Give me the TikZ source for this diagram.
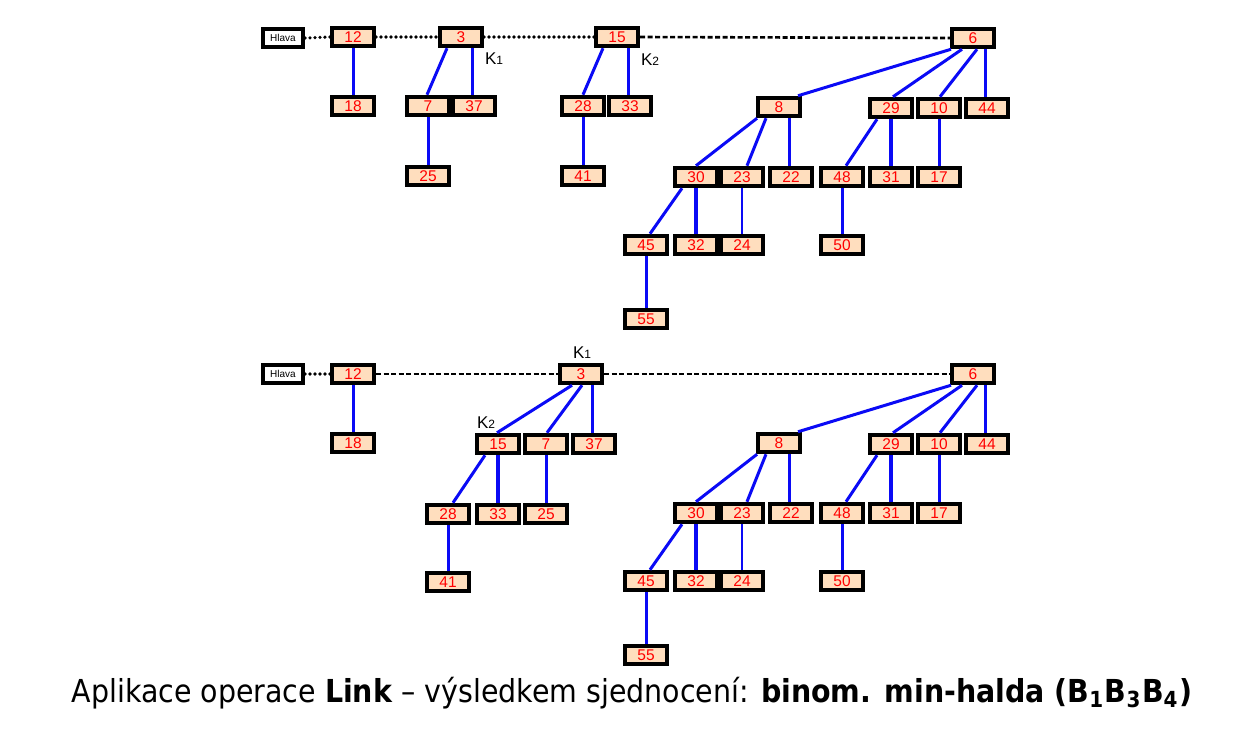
\documentclass[tikz,border=0pt]{standalone}
\usepackage{fontspec}
\setmainfont{Liberation Sans}
\newfontfamily\capfont{DejaVu Sans Condensed}
\usetikzlibrary{calc}
\definecolor{peach}{RGB}{255,222,190}
\definecolor{edgeblue}{RGB}{10,10,245}
\tikzset{
  hb/.style={draw=black, line width=4pt, fill=peach, minimum width=42pt, minimum height=18.5pt, inner sep=0pt, text=red, font=\fontsize{15.5}{15.5}\selectfont},
  hl/.style={draw=black, line width=4pt, fill=white, minimum width=40pt, minimum height=18pt, inner sep=0pt, font=\fontsize{10}{10}\selectfont},
  ed/.style={draw=edgeblue, line width=3pt},
  edt/.style={draw=edgeblue, line width=4.2pt},
  dots/.style={line width=3.6pt, line cap=round, dash pattern=on 0pt off 5pt},
  dsh/.style={line width=2.6pt, dash pattern=on 5pt off 2.5pt},
  kl/.style={font=\fontsize{17}{17}\selectfont, inner sep=0pt}
}
\newcommand{\kk}[1]{K{\fontsize{12}{12}\selectfont #1}}
\begin{document}
\begin{tikzpicture}[x=1pt,y=-1pt]
\useasboundingbox (0,0) rectangle (1260,744);
% ---------- top ----------
\node[hl] (th) at (283,38) {Hlava};
\node[hb] (t12) at (353,37) {12};
\node[hb] (t3) at (461,37) {3};
\node[hb] (t15) at (617,37) {15};
\node[hb] (t6) at (973,38) {6};
\node[hb] (t18) at (353,106) {18};
\node[hb] (t7) at (428,106) {7};
\node[hb] (t37) at (474,106) {37};
\node[hb] (t25) at (428,176) {25};
\node[hb] (t28) at (583,106) {28};
\node[hb] (t33) at (630,106) {33};
\node[hb] (t41) at (583,176) {41};
\node[hb] (t8) at (779,107) {8};
\node[hb] (t29) at (891,108) {29};
\node[hb] (t10) at (939,108) {10};
\node[hb] (t44) at (987,108) {44};
\node[hb] (t30) at (696,177) {30};
\node[hb] (t23) at (742,177) {23};
\node[hb] (t22) at (791,177) {22};
\node[hb] (t48) at (842,177) {48};
\node[hb] (t31) at (891,177) {31};
\node[hb] (t17) at (939,177) {17};
\node[hb] (t45) at (646,245) {45};
\node[hb] (t32) at (696,245) {32};
\node[hb] (t24) at (742,245) {24};
\node[hb] (t50) at (842,245) {50};
\node[hb] (t55) at (646,319) {55};
\node[kl] (tk1) at (494,59) {\kk{1}};
\node[kl] (tk2) at (650,60) {\kk{2}};
\draw[dots] (th.east) -- (t12.west);
\draw[dots] (t12.east) -- (t3.west);
\draw[dots] (t3.east) -- (t15.west);
\draw[dsh] (t15.east) -- (t6.west);
\draw[ed] (t12.south) -- (t18.north);
\draw[ed] ([xshift=-14pt]t3.south) -- ([xshift=-1pt]t7.north);
\draw[ed] ([xshift=11pt]t3.south) -- ([xshift=-2pt]t37.north);
\draw[ed] (t7.south) -- (t25.north);
\draw[ed] ([xshift=-14pt]t15.south) -- (t28.north);
\draw[ed] ([xshift=11pt]t15.south) -- ([xshift=-2pt]t33.north);
\draw[ed] (t28.south) -- (t41.north);
\draw[ed] ([xshift=-22pt]t6.south) -- ([xshift=19pt]t8.north);
\draw[ed] ([xshift=-11pt]t6.south) -- ([xshift=2pt]t29.north);
\draw[ed] ([xshift=4pt]t6.south) -- ([xshift=1pt]t10.north);
\draw[ed] ([xshift=12pt]t6.south) -- ([xshift=-2pt]t44.north);
\draw[ed] ([xshift=-22pt]t8.south) -- (t30.north);
\draw[ed] ([xshift=-13pt]t8.south) -- ([xshift=5pt]t23.north);
\draw[ed] ([xshift=10pt]t8.south) -- ([xshift=-2pt]t22.north);
\draw[ed] ([xshift=-14pt]t29.south) -- ([xshift=4pt]t48.north);
\draw[edt] (t29.south) -- (t31.north);
\draw[ed] (t10.south) -- (t17.north);
\draw[ed] ([xshift=-14pt]t30.south) -- ([xshift=4pt]t45.north);
\draw[edt] (t30.south) -- (t32.north);
\draw[ed, line width=2.2pt] (t23.south) -- (t24.north);
\draw[ed] (t48.south) -- (t50.north);
\draw[ed] (t45.south) -- (t55.north);
% ---------- bottom ----------
\node[hl] (bh) at (283,374) {Hlava};
\node[hb] (b12) at (353,374) {12};
\node[hb] (b3) at (581,374) {3};
\node[hb] (b6) at (973,374) {6};
\node[hb] (b18) at (353,443) {18};
\node[hb] (b15) at (498,444) {15};
\node[hb] (b7) at (546,444) {7};
\node[hb] (b37) at (594,444) {37};
\node[hb] (b28) at (448,514) {28};
\node[hb] (b33) at (498,514) {33};
\node[hb] (b25) at (546,514) {25};
\node[hb] (b41) at (448,582) {41};
\node[hb] (b8) at (779,443) {8};
\node[hb] (b29) at (891,444) {29};
\node[hb] (b10) at (939,444) {10};
\node[hb] (b44) at (987,444) {44};
\node[hb] (b30) at (696,513) {30};
\node[hb] (b23) at (742,513) {23};
\node[hb] (b22) at (791,513) {22};
\node[hb] (b48) at (842,513) {48};
\node[hb] (b31) at (891,513) {31};
\node[hb] (b17) at (939,513) {17};
\node[hb] (b45) at (646,581) {45};
\node[hb] (b32) at (696,581) {32};
\node[hb] (b24) at (742,581) {24};
\node[hb] (b50) at (842,581) {50};
\node[hb] (b55) at (646,655) {55};
\node[kl] (bk1) at (582,353) {\kk{1}};
\node[kl] (bk2) at (486,423) {\kk{2}};
\draw[dots] (bh.east) -- (b12.west);
\draw[dsh] (b12.east) -- (b3.west);
\draw[dsh] (b3.east) -- (b6.west);
\draw[ed] (b12.south) -- (b18.north);
\draw[ed] ([xshift=-9pt]b3.south) -- ([xshift=-1pt]b15.north);
\draw[ed] ([xshift=1pt]b3.south) -- ([xshift=1pt]b7.north);
\draw[ed] ([xshift=11pt]b3.south) -- ([xshift=-2pt]b37.north);
\draw[ed] ([xshift=-13pt]b15.south) -- ([xshift=5pt]b28.north);
\draw[edt] (b15.south) -- (b33.north);
\draw[ed] (b7.south) -- (b25.north);
\draw[ed] (b28.south) -- (b41.north);
\draw[ed] ([xshift=-22pt]b6.south) -- ([xshift=19pt]b8.north);
\draw[ed] ([xshift=-11pt]b6.south) -- ([xshift=2pt]b29.north);
\draw[ed] ([xshift=4pt]b6.south) -- ([xshift=1pt]b10.north);
\draw[ed] ([xshift=12pt]b6.south) -- ([xshift=-2pt]b44.north);
\draw[ed] ([xshift=-22pt]b8.south) -- (b30.north);
\draw[ed] ([xshift=-13pt]b8.south) -- ([xshift=5pt]b23.north);
\draw[ed] ([xshift=10pt]b8.south) -- ([xshift=-2pt]b22.north);
\draw[ed] ([xshift=-14pt]b29.south) -- ([xshift=4pt]b48.north);
\draw[edt] (b29.south) -- (b31.north);
\draw[ed] (b10.south) -- (b17.north);
\draw[ed] ([xshift=-14pt]b30.south) -- ([xshift=4pt]b45.north);
\draw[edt] (b30.south) -- (b32.north);
\draw[ed, line width=2.2pt] (b23.south) -- (b24.north);
\draw[ed] (b48.south) -- (b50.north);
\draw[ed] (b45.south) -- (b55.north);
% ---------- caption ----------
\node[inner sep=0pt] (cap) at (632,693) {\resizebox{1120pt}{!}{\capfont Aplikace operace \textbf{Link} – výsledkem sjednocení: \textbf{binom. min-halda (B\textsubscript{1}B\textsubscript{3}B\textsubscript{4})}}};
\end{tikzpicture}
\end{document}
